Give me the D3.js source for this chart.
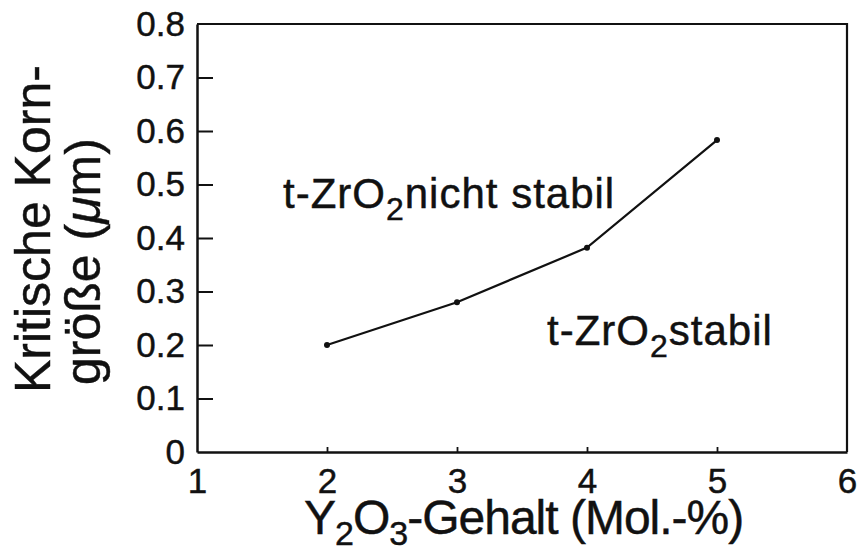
<!DOCTYPE html>
<html>
<head>
<meta charset="utf-8">
<script src="https://cdn.jsdelivr.net/npm/d3@7"></script>
<style>
  html, body { margin: 0; padding: 0; background: #fff; }
  svg { display: block; }
  text { font-family: "Liberation Sans", Arial, Helvetica, sans-serif; fill: #111; stroke: #111; stroke-width: 0.45px; }
</style>
</head>
<body>
<svg id="chart" width="859" height="546"></svg>
<script>
// ---- data ----
const yttria = [2, 3, 4, 5];                 // Y2O3-Gehalt (Mol.-%)
const grainSize = [0.20, 0.28, 0.382, 0.583]; // kritische Korngröße (µm)
const xTicks = [1, 2, 3, 4, 5, 6];
const yTicks = [0, 0.1, 0.2, 0.3, 0.4, 0.5, 0.6, 0.7, 0.8];
const yTickLabels = ["0", "0.1", "0.2", "0.3", "0.4", "0.5", "0.6", "0.7", "0.8"];

const svg = d3.select("#chart");
const m = { left: 197, right: 847, top: 24, bottom: 452 };

const x = d3.scaleLinear().domain([1, 6]).range([m.left, m.right]);
const y = d3.scaleLinear().domain([0, 0.8]).range([m.bottom, m.top]);

// frame (top and right)
svg.append("path")
  .attr("d", `M${m.left},${m.top}H${m.right}V${m.bottom}`)
  .attr("fill", "none").attr("stroke", "#111").attr("stroke-width", 2.2);

// y axis (ticks inward)
const yAxis = d3.axisLeft(y).tickValues(yTicks)
  .tickFormat((d, i) => yTickLabels[i]).tickSizeInner(-16).tickSizeOuter(0).tickPadding(12);
const gy = svg.append("g").attr("transform", `translate(${m.left},0)`).call(yAxis);
gy.select(".domain").attr("stroke", "#111").attr("stroke-width", 2.5);
gy.selectAll(".tick line").attr("stroke", "#111").attr("stroke-width", 2)
  .filter(d => d === 0 || d === 0.8).remove();
gy.selectAll(".tick text").attr("font-size", 35).attr("fill", "#111")
  .attr("font-family", "'Liberation Sans', Arial, sans-serif");

// x axis (small ticks inward)
const xAxis = d3.axisBottom(x).tickValues(xTicks).tickFormat(d3.format("d"))
  .tickSizeInner(-5).tickSizeOuter(0).tickPadding(16);
const gx = svg.append("g").attr("transform", `translate(0,${m.bottom})`).call(xAxis);
gx.select(".domain").attr("stroke", "#111").attr("stroke-width", 2.5);
gx.selectAll(".tick line").attr("stroke", "#111").attr("stroke-width", 1.8)
  .filter(d => d === 1 || d === 6).remove();
gx.selectAll(".tick text").attr("font-size", 35).attr("fill", "#111")
  .attr("font-family", "'Liberation Sans', Arial, sans-serif");

// data line
const pts = yttria.map((v, i) => [v, grainSize[i]]);
svg.append("path").datum(pts)
  .attr("d", d3.line().x(d => x(d[0])).y(d => y(d[1])))
  .attr("fill", "none").attr("stroke", "#111").attr("stroke-width", 2.2);
svg.selectAll("circle.pt").data(pts).enter().append("circle")
  .attr("class", "pt").attr("cx", d => x(d[0])).attr("cy", d => y(d[1]))
  .attr("r", 3).attr("fill", "#111");

// text with chemical subscripts
function chem(parent, xPos, yPos, size, subSize, subDy, spacing, parts) {
  const t = parent.append("text").attr("x", xPos).attr("y", yPos)
    .attr("font-size", size).attr("letter-spacing", spacing);
  parts.forEach(p => {
    const ts = t.append("tspan").text(p.t);
    if (p.sub) ts.attr("font-size", subSize).attr("dy", subDy);
    else if (p.back) ts.attr("dy", -subDy);
  });
  return t;
}
chem(svg, 283, 208, 42, 32, 12, 1, [{t: "t-ZrO"}, {t: "2", sub: true}, {t: "nicht stabil", back: true}]);
chem(svg, 547, 345, 42, 32, 12, 1, [{t: "t-ZrO"}, {t: "2", sub: true}, {t: "stabil", back: true}]);

// x axis title
chem(svg, 304, 534, 48, 34, 11, -1, [{t: "Y"}, {t: "2", sub: true}, {t: "O", back: true}, {t: "3", sub: true}, {t: "-Gehalt (Mol.-%)", back: true}]);

// y axis title (two lines, rotated)
svg.append("text").attr("transform", "translate(50,393) rotate(-90)")
  .attr("font-size", 50).text("Kritische Korn-");
const yt2 = svg.append("text").attr("transform", "translate(100,385) rotate(-90)")
  .attr("font-size", 50);
yt2.append("tspan").text("größe (");
yt2.append("tspan").attr("font-style", "italic").text("μ");
yt2.append("tspan").text("m)");
</script>
</body>
</html>
